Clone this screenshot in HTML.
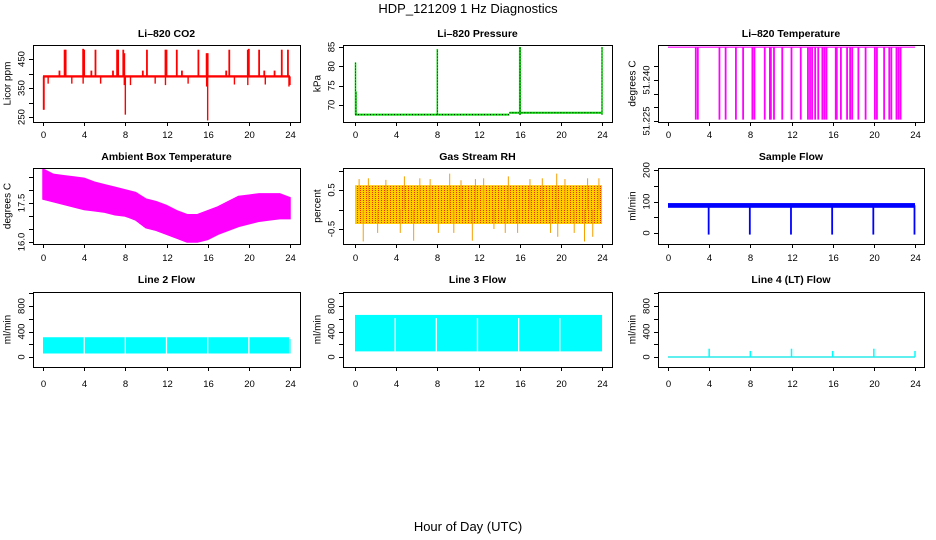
<!DOCTYPE html>
<html><head><meta charset="utf-8"><style>
html,body{margin:0;padding:0;background:#fff;}
svg{display:block;font-family:"Liberation Sans",sans-serif;}
</style></head><body>
<svg id="c" width="936" height="540" viewBox="0 0 936 540">
<defs>
<pattern id="rhpat" width="3" height="2" patternUnits="userSpaceOnUse">
<rect width="3" height="2" fill="#ffcc00"/><rect width="1" height="1" fill="#f03000"/>
</pattern>
</defs>
<text x="468" y="13" text-anchor="middle" font-size="13">HDP_121209  1 Hz Diagnostics</text>
<text x="468" y="531" text-anchor="middle" font-size="13">Hour of Day (UTC)</text>
</svg>
<script>
// ---------- data ----------
const xTicks=[0,4,8,12,16,20,24];
const co2BandLow=386, co2BandHigh=394;
const co2UpHours=[1.6,2.1,2.2,3.9,4.0,4.7,5.1,6.8,7.2,7.3,7.8,7.9,9.7,10.1,11.9,12.0,13.0,13.5,15.1,15.9,16.0,17.8,18.1,19.9,20.0,21.0,21.5,22.5,23.2,23.8];
const co2UpVals=[410,482,482,485,482,410,482,410,482,482,482,470,410,482,482,482,482,410,482,470,470,410,482,482,485,482,410,410,482,482];
const co2DownHours=[0.05,0.1,0.5,2.8,3.9,5.6,7.9,8.0,8.5,10.9,11.9,14.1,15.9,16.0,18.6,19.9,21.6,23.9,24.0];
const co2DownVals=[275,275,365,365,365,365,360,258,360,365,360,365,355,238,362,360,362,355,360];
const presSegStart=[0,15], presSegEnd=[15,24], presSegVal=[67.5,68];
const presSpikeHours=[0.05,0.1,8,16,16.05,24];
const presSpikeVals=[81,73.5,84.5,85,85,85];
const tempTop=51.252, tempLow=51.2255;
const tempDropHours=[2.7,2.9,5.0,5.6,6.6,7.3,8.2,8.4,9.4,9.9,10.0,10.3,11.1,12.0,12.9,13.6,13.8,14.0,14.3,14.6,15.0,15.2,15.4,16.3,16.4,16.8,17.4,17.7,17.9,18.5,19.2,20.1,20.3,21.0,21.5,21.7,22.2,22.4,22.6];
const ambHours=[0,1,2,3,4,5,6,7,8,9,10,11,12,13,14,15,16,17,18,19,20,21,22,23,24];
const ambLow=[17.65,17.55,17.45,17.35,17.25,17.2,17.15,17.05,17.0,16.85,16.55,16.45,16.3,16.15,16.0,16.0,16.1,16.3,16.45,16.6,16.7,16.8,16.85,16.9,16.9];
const ambHigh=[18.8,18.6,18.55,18.5,18.45,18.3,18.2,18.1,18.0,17.9,17.65,17.55,17.4,17.2,17.05,17.05,17.2,17.35,17.55,17.75,17.8,17.85,17.85,17.85,17.7];
const rhLow=-0.37, rhHigh=0.62;
const rhSpikeHours=[0.4,0.8,1.3,2.2,3.0,4.4,4.8,5.7,6.3,7.3,8.1,9.2,9.6,10.3,11.4,11.7,12.5,13.5,14.6,14.9,15.8,17.0,18.2,19.0,19.6,19.7,20.4,21.3,22.3,22.6,23.1,23.7];
const rhSpikeVals=[0.78,-0.82,0.8,-0.6,0.76,-0.6,0.85,-0.8,0.8,0.78,-0.6,0.92,-0.6,0.75,-0.8,0.78,0.8,-0.5,-0.6,0.85,-0.6,0.78,0.8,-0.6,0.92,-0.7,0.78,-0.6,-0.82,0.8,-0.7,0.8];
const sfLow=80, sfHigh=95;
const sfDropHours=[4,8,12,16,20,24];
const sfDropVals=[-5,-5,-5,-5,-5,-5];
const l2Low=55, l2High=310, l3Low=88, l3High=660;
const gapHours=[4,8,12,16,20];
const l4SpikeHours=[4,8,12,16,20,24];
const l4SpikeVals=[130,95,130,95,130,95];

// ---------- layout ----------
const svg=document.getElementById('c');
const NS='http://www.w3.org/2000/svg';
function el(tag,attrs,parent){const e=document.createElementNS(NS,tag);for(const k in attrs)e.setAttribute(k,attrs[k]);(parent||svg).appendChild(e);return e;}
const cols=[{bl:33,br:300,x0:43,x1:290,tl:22,yl:8},{bl:343,br:612,x0:355,x1:602,tl:332,yl:318},{bl:658,br:924,x0:668,x1:915,tl:647,yl:633}];
const rows=[{bt:45,bb:122,ty:37,lx:138},{bt:168,bb:244,ty:160,lx:261},{bt:292,bb:367,ty:283,lx:387}];
function lin(v0,p0,v1,p1){return v=>p0+(v-v0)*(p1-p0)/(v1-v0);}

function panel(ci,ri,name,title,ylab,ya,ticks,labels,fmt){
  const c=cols[ci],r=rows[ri];
  const g=el('g',{});
  
  
  const sx=lin(0,c.x0,24,c.x1);
  const sy=lin(ya[0],ya[1],ya[2],ya[3]);
  const t=el('text',{x:(c.bl+c.br)/2,y:r.ty,'text-anchor':'middle','font-size':10.5,'font-weight':'bold'},g);
  t.textContent=title;
  
  
  const yl=el('text',{x:c.yl,y:(r.bt+r.bb)/2,'text-anchor':'middle','font-size':10,transform:`rotate(-90 ${c.yl} ${(r.bt+r.bb)/2})`,'dominant-baseline':'central'},g);
  yl.textContent=ylab;
  
  
  const ax=el('g',{stroke:'#000','stroke-width':1},g);
  
  
  ticks.forEach(v=>{const y=Math.round(sy(v))+.5;el('line',{x1:c.bl-4,x2:c.bl,y1:y,y2:y},ax);});
  el('line',{x1:c.bl+.5,x2:c.bl+.5,y1:sy(ticks[0]),y2:sy(ticks[ticks.length-1])},ax);
  labels.forEach(v=>{const y=sy(v);const tx=el('text',{x:c.tl,y:y,'text-anchor':'middle','font-size':9.5,stroke:'none',transform:`rotate(-90 ${c.tl} ${y})`,'dominant-baseline':'central'},ax);tx.textContent=fmt(v);});
  const xa=el('g',{stroke:'#000'},g);
  
  
  xTicks.forEach(h=>{const x=Math.round(sx(h))+.5;el('line',{x1:x,x2:x,y1:r.bb,y2:r.bb+4},xa);const tx=el('text',{x:x,y:r.lx,'text-anchor':'middle','font-size':9.5,stroke:'none'},xa);tx.textContent=h;});
  const data=el('g',{},g);
  
  
  const box=el('rect',{x:c.bl+.5,y:r.bt+.5,width:c.br-c.bl,height:r.bb-r.bt,fill:'none',stroke:'#000'},g);
  
  
  return {g:data,sx,sy};
}
function vline(p,h,a,b,col,w){const x=p.sx(h);el('line',{x1:x,x2:x,y1:p.sy(a),y2:p.sy(b),stroke:col,'stroke-width':w||1.2},p.g);}
function band(p,h0,h1,lo,hi,fill){el('rect',{x:p.sx(h0),y:p.sy(hi),width:p.sx(h1)-p.sx(h0),height:p.sy(lo)-p.sy(hi),fill:fill},p.g);}

// CO2
let p=panel(0,0,'co2-panel','Li\u2013820 CO2','Licor ppm',[450,59,250,117],[250,300,350,400,450],[250,350,450],v=>v);
band(p,0,24,co2BandLow,co2BandHigh,'#ff0000');
co2UpHours.forEach((h,i)=>vline(p,h,390,co2UpVals[i],'#ff0000',1.8));
co2DownHours.forEach((h,i)=>vline(p,h,390,co2DownVals[i],'#ff0000',1.4));

// Pressure
p=panel(1,0,'pressure-panel','Li\u2013820 Pressure','kPa',[85,47,70,105],[70,75,80,85],[70,75,80,85],v=>v);
presSegStart.forEach((s,i)=>{const y=p.sy(presSegVal[i]);el('line',{x1:p.sx(s),x2:p.sx(presSegEnd[i]),y1:y,y2:y,stroke:'#00dd00','stroke-width':2},p.g);el('line',{x1:p.sx(s),x2:p.sx(presSegEnd[i]),y1:y,y2:y,stroke:'#000','stroke-width':1,'stroke-dasharray':'1 2'},p.g);});
presSpikeHours.forEach((h,i)=>{vline(p,h,67.5,presSpikeVals[i],'#00dd00',1.5);const x=p.sx(h);el('line',{x1:x,x2:x,y1:p.sy(67.5),y2:p.sy(presSpikeVals[i]),stroke:'#000','stroke-width':.8,'stroke-dasharray':'1 2'},p.g);});

// Li-820 Temperature
p=panel(2,0,'temperature-panel','Li\u2013820 Temperature','degrees C',[51.225,121,51.24,80],[51.225,51.23,51.235,51.24,51.245],[51.225,51.24],v=>v.toFixed(3));
{const y=p.sy(tempTop);el('line',{x1:p.sx(0),x2:p.sx(24),y1:y,y2:y,stroke:'#ff00ff','stroke-width':1.2},p.g);}
tempDropHours.forEach(h=>vline(p,h,tempTop,tempLow,'#ff00ff',1.8));

// Ambient
p=panel(0,1,'ambient-temp-panel','Ambient Box Temperature','degrees C',[16,242,17.5,203],[16,16.5,17,17.5,18,18.5],[16,17.5],v=>v.toFixed(1));
{let pts=ambHours.map((h,i)=>p.sx(h)+','+p.sy(ambHigh[i]));pts=pts.concat(ambHours.slice().reverse().map((h,j)=>{const i=ambHours.length-1-j;return p.sx(h)+','+p.sy(ambLow[i]);}));el('polygon',{points:pts.join(' '),fill:'#ff00ff',stroke:'#ff00ff','stroke-width':1.5},p.g);}

// RH
p=panel(1,1,'rh-panel','Gas Stream RH','percent',[0.5,190,-0.5,229],[-0.5,0,0.5,1],[-0.5,0.5],v=>v.toFixed(1));
band(p,0,24,rhLow,rhHigh,'#f7a800');
band(p,0,24,rhLow,rhHigh,'url(#rhpat)');
rhSpikeHours.forEach((h,i)=>vline(p,h,0,rhSpikeVals[i],'#f5a000',1));

// Sample flow
p=panel(2,1,'sample-flow-panel','Sample Flow','ml/min',[200,170,0,233],[0,50,100,150,200],[0,100,200],v=>v);
band(p,0,24,sfLow,sfHigh,'#0000ff');
sfDropHours.forEach((h,i)=>vline(p,h-0.05,88,sfDropVals[i],'#0000ff',1.8));

// Line 2
p=panel(0,2,'line2-flow-panel','Line 2 Flow','ml/min',[0,357,800,306],[0,200,400,600,800,1000],[0,400,800],v=>v);
band(p,0,23.9,l2Low,l2High,'#00ffff');
band(p,23.95,24.05,l2Low,280,'#00ffff');
gapHours.forEach(h=>vline(p,h,l2Low,l2High,'#ffffff',1.3));

// Line 3
p=panel(1,2,'line3-flow-panel','Line 3 Flow','ml/min',[0,357,800,306],[0,200,400,600,800,1000],[0,400,800],v=>v);
band(p,0,24,l3Low,l3High,'#00ffff');
gapHours.forEach(h=>vline(p,h-0.1,l3Low,610,'#ffffff',1.3));

// Line 4
p=panel(2,2,'line4-flow-panel','Line 4 (LT) Flow','ml/min',[0,357,800,306],[0,200,400,600,800,1000],[0,400,800],v=>v);
{const y=p.sy(0);el('line',{x1:p.sx(0),x2:p.sx(24),y1:y,y2:y,stroke:'#00e5e5','stroke-width':1.2},p.g);}
l4SpikeHours.forEach((h,i)=>vline(p,h,0,l4SpikeVals[i],'#00ffff',1.5));
</script>
</body></html>
